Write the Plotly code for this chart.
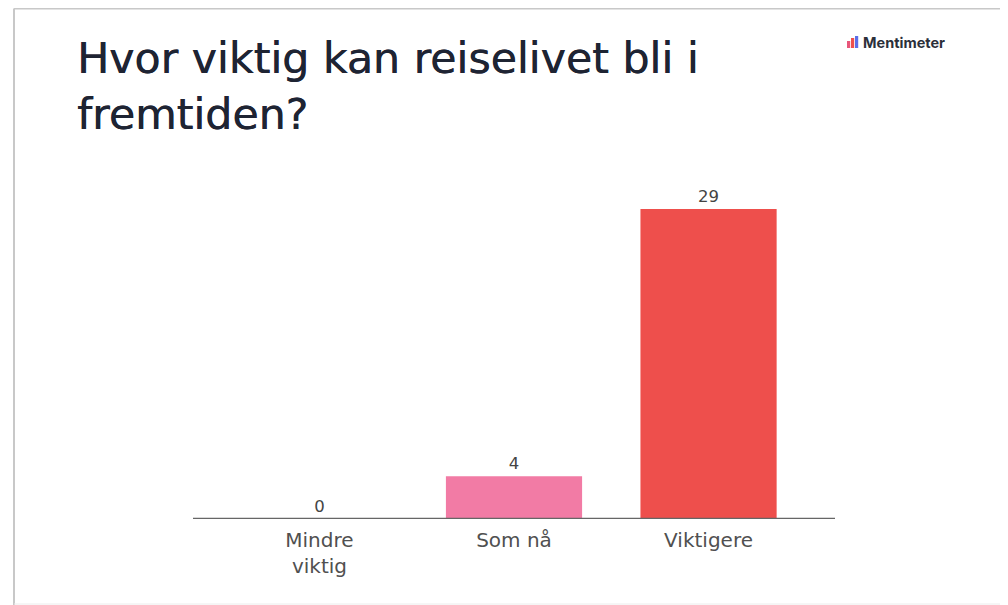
import plotly.graph_objects as go

categories = ["Mindre<br>viktig", "Som nå", "Viktigere"]
values = [0, 4, 29]
bar_colors = ["#7b8cf0", "#f27ba5", "#ee4f4c"]
title_text = "Hvor viktig kan reiselivet bli i<br>fremtiden?"
brand_text = "Mentimeter"

# the page has an 8px body margin, so the figure is drawn 8px right/down
OFF = 8
W, H = 1008, 605
L, R, T, B = 193 - OFF, 173 + OFF, 177 - OFF, 86 + OFF
pw, ph = W - L - R, H - T - B

def px(x):
    return (x - OFF - L) / pw

def py(y):
    return (H - B - (y - OFF)) / ph

FONT = "DejaVu Sans, sans-serif"

fig = go.Figure(go.Bar(
    x=categories, y=values,
    marker=dict(color=bar_colors, line=dict(width=0)),
    text=values, textposition="outside", cliponaxis=False,
    textfont=dict(family=FONT, size=16.5, color="#444444"),
    hoverinfo="skip",
))

fig.update_layout(
    width=W, height=H,
    margin=dict(l=L, r=R, t=T, b=B),
    paper_bgcolor="white", plot_bgcolor="white",
    bargap=0.3, showlegend=False,
    xaxis=dict(showgrid=False, zeroline=False, showline=False,
               tickfont=dict(family=FONT, size=20, color="#505050"),
               ticks="outside", ticklen=3, tickcolor="rgba(0,0,0,0)",
               range=[-0.65, 2.65], fixedrange=True),
    yaxis=dict(range=[0, 32], visible=False, fixedrange=True),
)

# axis baseline
fig.add_shape(type="line", xref="x", yref="y", x0=-0.65, x1=2.65, y0=0, y1=0,
              line=dict(color="#666666", width=2.5))

# slide border
border = "#c8c8c8"
fig.add_shape(type="line", xref="paper", yref="paper", x0=px(14), x1=px(1016), y0=py(8.5), y1=py(8.5),
              line=dict(color=border, width=2))
fig.add_shape(type="line", xref="paper", yref="paper", x0=px(14), x1=px(14), y0=py(8.5), y1=py(620),
              line=dict(color=border, width=2))
fig.add_shape(type="line", xref="paper", yref="paper", x0=px(14), x1=px(1016), y0=py(604), y1=py(604),
              line=dict(color="#ececec", width=1))

# title
fig.add_annotation(xref="paper", yref="paper", x=px(75), y=py(31), xanchor="left", yanchor="top",
                   text=title_text, showarrow=False, align="left",
                   font=dict(family=FONT, size=42.7, color="#1e2433",
                             shadow="0.5px 0 0 #1e2433"))

# brand logo
for i, (c, h) in enumerate([("#e8567a", 7), ("#ee4f4c", 10), ("#5b6ee8", 12)]):
    x0 = 847 + i * 4
    fig.add_shape(type="rect", xref="paper", yref="paper", x0=px(x0), x1=px(x0 + 3.2),
                  y0=py(48), y1=py(48 - h), line=dict(width=0), fillcolor=c)
fig.add_annotation(xref="paper", yref="paper", x=px(861), y=py(42), xanchor="left", yanchor="middle",
                   text="<b>" + brand_text + "</b>", showarrow=False,
                   font=dict(family="Inter, Noto Sans, sans-serif", size=14.5, color="#2b2f3a"))

fig.write_html("out.html")
